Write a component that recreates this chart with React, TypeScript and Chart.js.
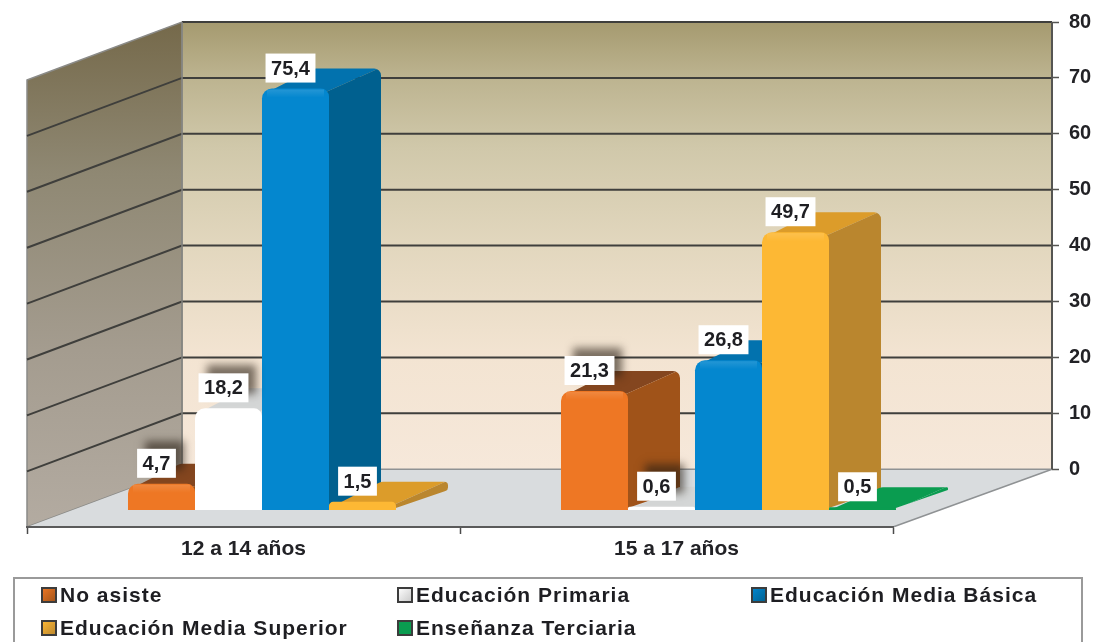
import React, { useEffect, useRef } from "react";
import { Chart, registerables } from "chart.js";

Chart.register(...registerables);

const categories = ["12 a 14 años", "15 a 17 años"];
const seriesNames = [
  "No asiste",
  "Educación Primaria",
  "Educación Media Básica",
  "Educación Media Superior",
  "Enseñanza Terciaria",
];
const noAsiste = [4.7, 21.3];
const primaria = [18.2, 0.6];
const mediaBasica = [75.4, 26.8];
const mediaSuperior = [1.5, 49.7];
const terciaria = [null, 0.5];
const seriesValues = [noAsiste, primaria, mediaBasica, mediaSuperior, terciaria];

const frontColors = ["#ee7724", "#ffffff", "#0487cf", "#fdb834", "#0a9c50"];
const sideColors = ["#a05319", "#e4e4e4", "#00608f", "#ba862e", "#0a9c50"];
const topColors = ["#84461f", "#d4d6d6", "#0272ae", "#dc9c2a", "#0a9c50"];
const shadowedLabels = [true, true, false, false, false];

const FONT = '"Liberation Sans", Arial, sans-serif';
const PX_PER_UNIT = 5.6125;
const DEPTH_X = 52;
const DEPTH_Y = 20;
const FLOOR_DX = 155;
const FLOOR_DY = 58;

// path of a polygon with a corner radius given for each vertex
function roundPolyPath(ctx: CanvasRenderingContext2D, pts: number[][], radii: number[]) {
  const n = pts.length;
  ctx.beginPath();
  ctx.moveTo((pts[n - 1][0] + pts[0][0]) / 2, (pts[n - 1][1] + pts[0][1]) / 2);
  for (let i = 0; i < n; i++) {
    const p = pts[i];
    const q = pts[(i + 1) % n];
    const prev = pts[(i + n - 1) % n];
    const edge = Math.hypot(q[0] - p[0], q[1] - p[1]);
    const edgePrev = Math.hypot(prev[0] - p[0], prev[1] - p[1]);
    ctx.arcTo(p[0], p[1], q[0], q[1], Math.min(radii[i], edge * 0.45, edgePrev * 0.45));
  }
  ctx.closePath();
}

function fillPoly(ctx: CanvasRenderingContext2D, pts: number[][], color: string) {
  ctx.beginPath();
  pts.forEach((p, i) => (i ? ctx.lineTo(p[0], p[1]) : ctx.moveTo(p[0], p[1])));
  ctx.closePath();
  ctx.fillStyle = color;
  ctx.fill();
}

const scenePlugin = {
  id: "scene",
  afterLayout(chart: any) {
    const x = chart.scales.x;
    x.right = 893;
    x.width = x.right - x.left;
    x.configure();
    const xb = chart.scales.xBars;
    xb.left = 79;
    xb.right = 945;
    xb.width = 866;
    xb.configure();
  },
  beforeDraw(chart: any) {
    const ctx: CanvasRenderingContext2D = chart.ctx;
    const y = chart.scales.y;
    const { left, right, bottom } = chart.chartArea;
    const backLeft = left + FLOOR_DX;
    const y0 = y.getPixelForValue(0);
    const y80 = y.getPixelForValue(80);
    ctx.save();
    const g = ctx.createLinearGradient(0, y80, 0, y0);
    g.addColorStop(0, "#a59a6f");
    g.addColorStop(0.12, "#bcb38f");
    g.addColorStop(0.28, "#d0c8aa");
    g.addColorStop(0.5, "#e2d7be");
    g.addColorStop(0.75, "#f3e4d2");
    g.addColorStop(1, "#f6e8da");
    ctx.fillStyle = g;
    ctx.fillRect(backLeft, y80, right - backLeft, y0 - y80);
    const g2 = ctx.createLinearGradient(0, y80, 0, bottom);
    g2.addColorStop(0, "#75694a");
    g2.addColorStop(0.3, "#8f8873");
    g2.addColorStop(0.65, "#a49c8f");
    g2.addColorStop(1, "#b3aba1");
    ctx.beginPath();
    ctx.moveTo(left, y80 + FLOOR_DY);
    ctx.lineTo(backLeft, y80);
    ctx.lineTo(backLeft, y0);
    ctx.lineTo(left, bottom);
    ctx.closePath();
    ctx.fillStyle = g2;
    ctx.fill();
    ctx.strokeStyle = "#8b8b88";
    ctx.lineWidth = 1.5;
    ctx.stroke();
    ctx.beginPath();
    ctx.moveTo(left, bottom);
    ctx.lineTo(backLeft, y0);
    ctx.lineTo(right, y0);
    ctx.lineTo(893, bottom);
    ctx.closePath();
    ctx.fillStyle = "#d9dcde";
    ctx.fill();
    ctx.strokeStyle = "#8f9294";
    ctx.lineWidth = 1.5;
    ctx.beginPath();
    ctx.moveTo(backLeft, y0);
    ctx.lineTo(right, y0);
    ctx.moveTo(right, y0);
    ctx.lineTo(893, bottom);
    ctx.stroke();
    ctx.strokeStyle = "#3f3f3c";
    ctx.lineWidth = 2;
    y.ticks.forEach((t: any) => {
      if (t.value <= 0) return;
      const p = y.getPixelForValue(t.value);
      ctx.beginPath();
      ctx.moveTo(right, p);
      ctx.lineTo(backLeft, p);
      if (t.value < 80) ctx.lineTo(left, p + FLOOR_DY);
      ctx.stroke();
    });
    ctx.strokeStyle = "#555552";
    ctx.lineWidth = 2;
    ctx.beginPath();
    ctx.moveTo(right, y80);
    ctx.lineTo(right, y0);
    ctx.stroke();
    ctx.strokeStyle = "#85857f";
    ctx.lineWidth = 1.5;
    ctx.beginPath();
    ctx.moveTo(backLeft, y80);
    ctx.lineTo(backLeft, y0);
    ctx.stroke();
    ctx.restore();
  },
  beforeDatasetsDraw(chart: any) {
    const ctx: CanvasRenderingContext2D = chart.ctx;
    const metas = chart.getSortedVisibleDatasetMetas();
    metas.forEach((meta: any) => {
      const i = meta.index;
      meta.data.forEach((el: any, k: number) => {
        if (seriesValues[i][k] == null) return;
        const r = el.x + el.width / 2;
        const l = el.x - el.width / 2;
        const t = el.y;
        const b = el.base;
        const bx = r + DEPTH_X;
        const by = t - DEPTH_Y;
        ctx.save();
        // whole top + side silhouette, rounded, used as a clip for both faces
        roundPolyPath(
          ctx,
          [[l + 1, Math.min(t + 6, b)], [l + DEPTH_X, by], [bx, by], [bx, b - DEPTH_Y], [r - 6, b]],
          [0, 9, 7, 4, 0]
        );
        ctx.clip();
        fillPoly(ctx, [[l - 2, b + 2], [l - 2, by - 2], [bx + 2, by - 2], [r - 2, t + 3]], topColors[i]);
        fillPoly(ctx, [[r - 2, t + 3], [bx + 2, by - 2], [bx + 2, b + 2], [r - 2, b + 2]], sideColors[i]);
        ctx.restore();
      });
      meta.controller.draw();
      ctx.save();
      meta.data.forEach((el: any, k: number) => {
        if (seriesValues[i][k] == null || i === 1) return;
        if (el.base - el.y < 10) return;
        const l = el.x - el.width / 2;
        const g = ctx.createLinearGradient(0, el.y, 0, el.y + 9);
        g.addColorStop(0, "rgba(255,255,255,0.14)");
        g.addColorStop(1, "rgba(255,255,255,0)");
        ctx.fillStyle = g;
        ctx.fillRect(l + 5, el.y + 1, el.width - 10, 9);
      });
      ctx.restore();
    });
    return false;
  },
  afterDraw(chart: any) {
    const ctx: CanvasRenderingContext2D = chart.ctx;
    ctx.save();
    ctx.font = `bold 20px ${FONT}`;
    ctx.textAlign = "center";
    ctx.textBaseline = "middle";
    chart.getSortedVisibleDatasetMetas().forEach((meta: any) => {
      const i = meta.index;
      meta.data.forEach((el: any, k: number) => {
        const v = seriesValues[i][k];
        if (v == null) return;
        const text = v.toFixed(1).replace(".", ",");
        const w = ctx.measureText(text).width + 11;
        const cx = el.x - 5;
        const h = 29;
        const boxBottom = el.y - 6;
        ctx.save();
        if (shadowedLabels[i]) {
          ctx.shadowColor = "rgba(40,30,20,0.6)";
          ctx.shadowBlur = 8;
          ctx.shadowOffsetX = 8;
          ctx.shadowOffsetY = -8;
        }
        ctx.fillStyle = "#ffffff";
        ctx.fillRect(cx - w / 2, boxBottom - h, w, h);
        ctx.restore();
        ctx.fillStyle = "#1e1e22";
        ctx.fillText(text, cx, boxBottom - h / 2 + 1);
      });
    });
    ctx.strokeStyle = "#9a9a9a";
    ctx.lineWidth = 2;
    ctx.strokeRect(14, 578, 1068, 90);
    const cols = [42, 398, 752];
    const rows = [595, 628];
    ctx.textAlign = "left";
    ctx.font = `bold 21px ${FONT}`;
    (ctx as any).letterSpacing = "1px";
    chart.data.datasets.forEach((d: any, i: number) => {
      const cx = cols[i % 3];
      const cy = rows[Math.floor(i / 3)];
      const g = ctx.createLinearGradient(cx, cy - 7, cx + 14, cy + 7);
      g.addColorStop(0, i === 1 ? "#ffffff" : frontColors[i]);
      g.addColorStop(1, i === 1 ? "#c8c8c8" : sideColors[i]);
      ctx.fillStyle = g;
      ctx.fillRect(cx, cy - 7, 14, 14);
      ctx.strokeStyle = "#3c3c3c";
      ctx.lineWidth = 2;
      ctx.strokeRect(cx, cy - 7, 14, 14);
      ctx.fillStyle = "#1e1e22";
      ctx.fillText(d.label, cx + 18, cy + 1);
    });
    ctx.restore();
  },
};

export default function App() {
  const ref = useRef<HTMLCanvasElement>(null);
  useEffect(() => {
    const chart = new Chart(ref.current!, {
      type: "bar",
      plugins: [scenePlugin],
      data: {
        labels: categories,
        datasets: seriesNames.map((name, i) => ({
          label: name,
          data: seriesValues[i],
          backgroundColor: frontColors[i],
          xAxisID: "xBars",
          yAxisID: "yBars",
          barPercentage: 1,
          categoryPercentage: 0.7737,
          borderWidth: 0,
          borderRadius: { topLeft: 10, topRight: 8, bottomLeft: 0, bottomRight: 0 },
        })),
      },
      options: {
        animation: false,
        responsive: false,
        devicePixelRatio: 1,
        layout: { padding: { left: 27, top: 20, right: 0, bottom: 0 } },
        plugins: { legend: { display: false }, tooltip: { enabled: false } },
        scales: {
          x: {
            type: "category",
            position: "bottom",
            offset: true,
            afterFit: (s: any) => { s.height = 642 - 527; },
            grid: { offset: true, drawOnChartArea: false, tickLength: 7, tickWidth: 1.5, tickColor: "#4a4a4a" },
            border: { display: true, color: "#5a5a5a", width: 2 },
            ticks: {
              autoSkip: false,
              maxRotation: 0,
              padding: 3,
              color: "#222226",
              font: { family: FONT, weight: "bold", size: 21 },
            },
          },
          xBars: {
            type: "category",
            axis: "x",
            position: "bottom",
            display: false,
            offset: true,
            grid: { offset: true },
          },
          y: {
            type: "linear",
            position: "right",
            min: -58 / PX_PER_UNIT,
            max: 80,
            afterFit: (s: any) => { s.width = 42; },
            afterBuildTicks: (s: any) => { s.ticks = s.ticks.filter((t: any) => t.value >= 0); },
            grid: { drawOnChartArea: false, tickLength: 7, tickWidth: 1.5, tickColor: "#555552" },
            border: { display: false },
            ticks: {
              stepSize: 10,
              padding: 10,
              color: "#222226",
              font: { family: FONT, weight: "bold", size: 20 },
            },
          },
          yBars: {
            type: "linear",
            axis: "y",
            position: "right",
            display: false,
            min: -(527 - 510) / PX_PER_UNIT,
            max: (510 - 20) / PX_PER_UNIT,
          },
        },
      } as any,
    });
    return () => chart.destroy();
  }, []);
  return (
    <div style={{ position: "absolute", left: 0, top: 0, width: 1094, height: 642, background: "#fff" }}>
      <canvas ref={ref} width={1094} height={642} style={{ display: "block", filter: "blur(0.5px)" }} />
    </div>
  );
}
